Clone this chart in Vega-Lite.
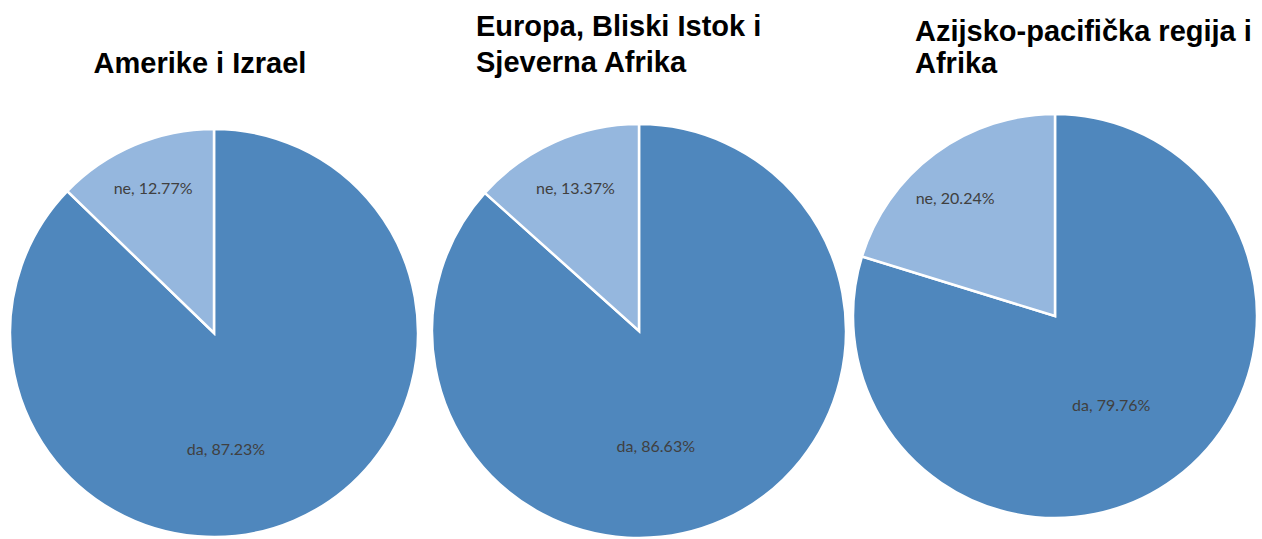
{
  "$schema": "https://vega.github.io/schema/vega-lite/v6.json",
  "padding": {"left": 0, "top": 13, "right": 0, "bottom": 0},
  "background": "white",
  "spacing": 0,
  "bounds": "flush",
  "config": {"view": {"stroke": null}},
  "data": {
    "values": [
      {"regija": "Amerike i Izrael", "odgovor": "da", "postotak": 87.23, "oznaka": "da, 87.23%"},
      {"regija": "Amerike i Izrael", "odgovor": "ne", "postotak": 12.77, "oznaka": "ne, 12.77%"},
      {"regija": "Europa, Bliski Istok i Sjeverna Afrika", "odgovor": "da", "postotak": 86.63, "oznaka": "da, 86.63%"},
      {"regija": "Europa, Bliski Istok i Sjeverna Afrika", "odgovor": "ne", "postotak": 13.37, "oznaka": "ne, 13.37%"},
      {"regija": "Azijsko-pacifička regija i Afrika", "odgovor": "da", "postotak": 79.76, "oznaka": "da, 79.76%"},
      {"regija": "Azijsko-pacifička regija i Afrika", "odgovor": "ne", "postotak": 20.24, "oznaka": "ne, 20.24%"}
    ]
  },
  "hconcat": [
    {
      "width": 428,
      "height": 408,
      "title": {"text": "Amerike i Izrael", "anchor": "middle", "frame": "group", "dx": -14, "offset": 16, "baseline": "bottom", "font": "Liberation Sans", "fontSize": 29, "fontWeight": "bold", "color": "#000000"},
      "transform": [{"filter": "datum.regija === 'Amerike i Izrael'"}],
      "encoding": {
        "theta": {"field": "postotak", "type": "quantitative", "stack": true},
        "order": {"field": "odgovor", "sort": "ascending"}
      },
      "layer": [
        {"mark": {"type": "arc", "radius": 204, "stroke": "white", "strokeWidth": 2.5},
         "encoding": {"color": {"field": "odgovor", "type": "nominal", "scale": {"domain": ["da", "ne"], "range": ["#4f87bd", "#95b7de"]}, "legend": null}}},
        {"mark": {"type": "text", "radius": 156, "font": "Lato", "fontSize": 16, "fill": "#404040", "align": "center", "baseline": "middle"},
         "encoding": {"text": {"condition": {"test": "datum.odgovor === 'ne'", "field": "oznaka", "type": "nominal"}, "value": ""}}},
        {"mark": {"type": "text", "radius": 118, "thetaOffset": 0.3, "font": "Lato", "fontSize": 16, "fill": "#404040", "align": "center", "baseline": "middle"},
         "encoding": {"text": {"condition": {"test": "datum.odgovor === 'da'", "field": "oznaka", "type": "nominal"}, "value": ""}}}
      ]
    },
    {
      "width": 422,
      "height": 404,
      "title": {"text": ["Europa, Bliski Istok i", "Sjeverna Afrika"], "anchor": "start", "frame": "group", "dx": 48, "offset": 12, "lineHeight": 36, "baseline": "bottom", "font": "Liberation Sans", "fontSize": 29, "fontWeight": "bold", "color": "#000000"},
      "transform": [{"filter": "datum.regija === 'Europa, Bliski Istok i Sjeverna Afrika'"}],
      "encoding": {
        "theta": {"field": "postotak", "type": "quantitative", "stack": true},
        "order": {"field": "odgovor", "sort": "ascending"}
      },
      "layer": [
        {"mark": {"type": "arc", "radius": 207, "stroke": "white", "strokeWidth": 2.5},
         "encoding": {"color": {"field": "odgovor", "type": "nominal", "scale": {"domain": ["da", "ne"], "range": ["#4f87bd", "#95b7de"]}, "legend": null}}},
        {"mark": {"type": "text", "radius": 156, "font": "Lato", "fontSize": 16, "fill": "#404040", "align": "center", "baseline": "middle"},
         "encoding": {"text": {"condition": {"test": "datum.odgovor === 'ne'", "field": "oznaka", "type": "nominal"}, "value": ""}}},
        {"mark": {"type": "text", "radius": 117, "thetaOffset": 0.276, "font": "Lato", "fontSize": 16, "fill": "#404040", "align": "center", "baseline": "middle"},
         "encoding": {"text": {"condition": {"test": "datum.odgovor === 'da'", "field": "oznaka", "type": "nominal"}, "value": ""}}}
      ]
    },
    {
      "width": 410,
      "height": 374,
      "title": {"text": ["Azijsko-pacifička regija i", "Afrika"], "anchor": "start", "frame": "group", "dx": 65, "offset": 1, "lineHeight": 32, "baseline": "bottom", "font": "Liberation Sans", "fontSize": 29, "fontWeight": "bold", "color": "#000000"},
      "transform": [{"filter": "datum.regija === 'Azijsko-pacifička regija i Afrika'"}],
      "encoding": {
        "theta": {"field": "postotak", "type": "quantitative", "stack": true},
        "order": {"field": "odgovor", "sort": "ascending"}
      },
      "layer": [
        {"mark": {"type": "arc", "radius": 202, "stroke": "white", "strokeWidth": 2.5},
         "encoding": {"color": {"field": "odgovor", "type": "nominal", "scale": {"domain": ["da", "ne"], "range": ["#4f87bd", "#95b7de"]}, "legend": null}}},
        {"mark": {"type": "text", "radius": 154, "thetaOffset": -0.07, "font": "Lato", "fontSize": 16, "fill": "#404040", "align": "center", "baseline": "middle"},
         "encoding": {"text": {"condition": {"test": "datum.odgovor === 'ne'", "field": "oznaka", "type": "nominal"}, "value": ""}}},
        {"mark": {"type": "text", "radius": 106, "thetaOffset": 0.077, "font": "Lato", "fontSize": 16, "fill": "#404040", "align": "center", "baseline": "middle"},
         "encoding": {"text": {"condition": {"test": "datum.odgovor === 'da'", "field": "oznaka", "type": "nominal"}, "value": ""}}}
      ]
    }
  ]
}
